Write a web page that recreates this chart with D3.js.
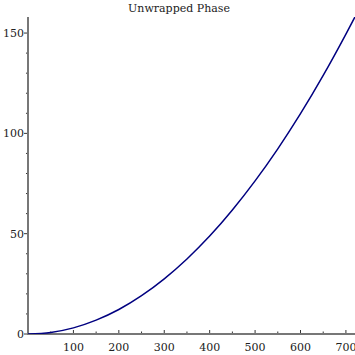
<!DOCTYPE html>
<html><head><meta charset="utf-8">
<script src="https://cdn.jsdelivr.net/npm/d3@7"></script>
<style>body{margin:0;background:#fff}svg{display:block}</style>
</head><body>
<script>
const title = "Unwrapped Phase";
const xValues = [0,50,100,150,200,250,300,350,400,450,500,550,600,650,700,720];
const yValues = [0,0.76,3.05,6.9,12.2,19.1,27.5,37.4,48.8,61.8,76.3,92.3,109.8,128.9,149.5,158.1];
const xTicks = [100,200,300,400,500,600,700];
const yTicks = [0,50,100,150];

const W=355,H=355;
const m={l:28,r:0,t:17,b:21};
const svg=d3.select("body").append("svg").attr("width",W).attr("height",H);
const x=d3.scaleLinear().domain([0,720]).range([m.l,W-m.r]);
const y=d3.scaleLinear().domain([0,158]).range([H-m.b,m.t]);
const font="'DejaVu Serif', 'Liberation Serif', serif";

svg.append("defs").append("clipPath").attr("id","c").append("rect")
  .attr("x",m.l).attr("y",m.t).attr("width",W-m.l-m.r).attr("height",H-m.t-m.b);

const axisColor="#777";
const xg=svg.append("g");
d3.range(50,721,50).forEach(v=>{
  const major=v%100===0;
  xg.append("line").attr("x1",x(v)).attr("x2",x(v)).attr("y1",y(0)).attr("y2",y(0)-(major?4:2.5))
    .attr("stroke","#333").attr("stroke-width",1);
});
xTicks.forEach(v=>{
  xg.append("text").attr("x",x(v)).attr("y",y(0)+17).attr("text-anchor","middle")
    .attr("font-family",font).attr("font-size",11).attr("fill","#222").text(v);
});
const yg=svg.append("g");
d3.range(0,159,10).forEach(v=>{
  const major=v%50===0;
  yg.append("line").attr("x1",x(0)).attr("x2",x(0)-(major?4:2)).attr("y1",y(v)).attr("y2",y(v))
    .attr("stroke","#333").attr("stroke-width",1);
});
yTicks.forEach(v=>{
  yg.append("text").attr("x",x(0)-4).attr("y",y(v)+4).attr("text-anchor","end")
    .attr("font-family",font).attr("font-size",11).attr("fill","#222").text(v);
});
svg.append("line").attr("x1",x(0)).attr("x2",W).attr("y1",y(0)).attr("y2",y(0)).attr("stroke",axisColor).attr("stroke-width",2);
svg.append("line").attr("x1",x(0)).attr("x2",x(0)).attr("y1",y(0)+1).attr("y2",m.t).attr("stroke",axisColor).attr("stroke-width",2);

const data=xValues.map((d,i)=>[d,yValues[i]]);
svg.append("path").datum(data).attr("clip-path","url(#c)")
  .attr("d",d3.line().x(d=>x(d[0])).y(d=>y(d[1])).curve(d3.curveMonotoneX))
  .attr("fill","none").attr("stroke","#000080").attr("stroke-width",1.5);

svg.append("text").attr("x",179).attr("y",12).attr("text-anchor","middle")
  .attr("font-family",font).attr("font-size",11).attr("fill","#222").text(title);
</script>
</body></html>
